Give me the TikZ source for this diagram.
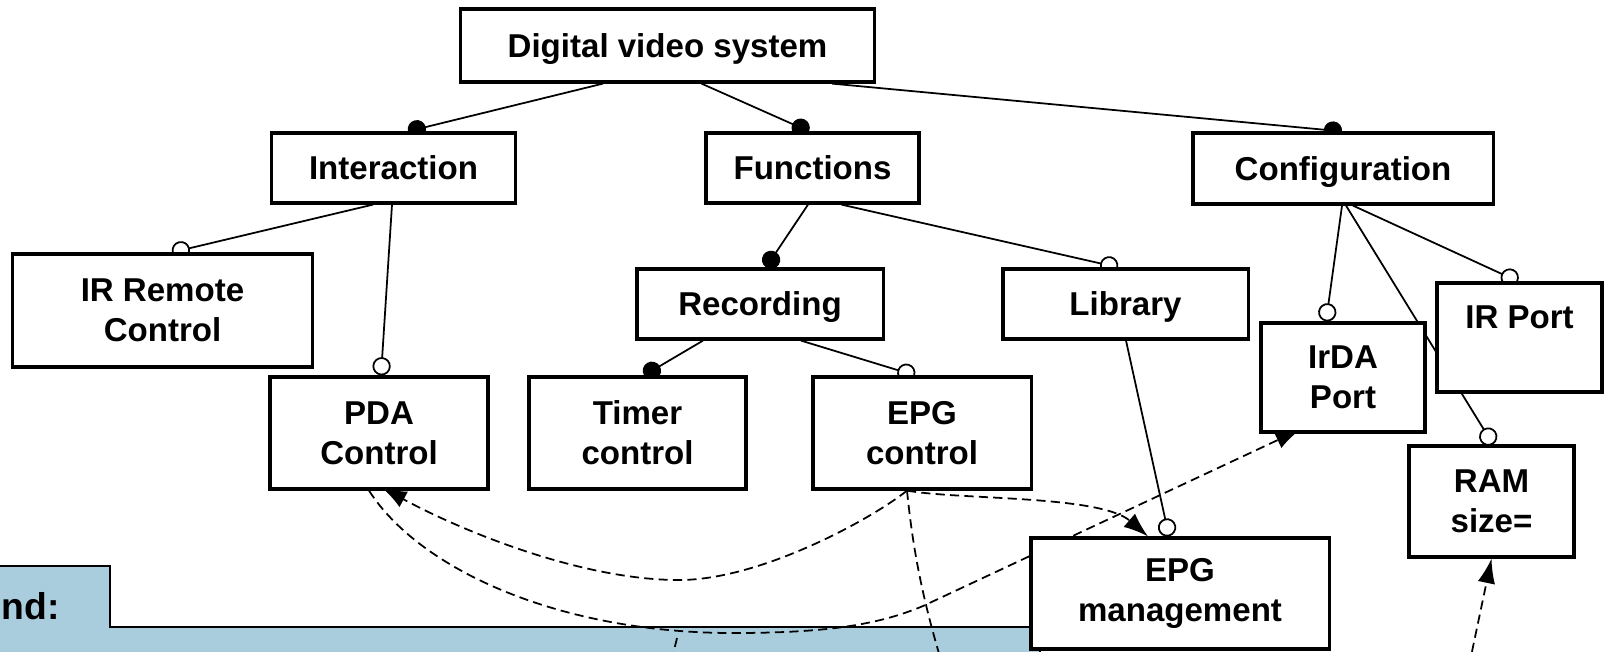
\documentclass[tikz,border=0pt]{standalone}
\usepackage{fontspec}
\setmainfont{Liberation Sans}
\usetikzlibrary{arrows.meta,calc}
\pgfdeclarelayer{back}
\pgfsetlayers{back,main}
\definecolor{legendblue}{RGB}{170,205,221}

\begin{document}
\begin{tikzpicture}[x=0.01cm, y=-0.01cm,
    box/.style={rectangle, draw, fill=white, line width=0.9pt, inner sep=0pt, align=center,
        font=\fontsize{9.4}{11.4}\selectfont\bfseries},
    single/.style={text height=0.237cm, text depth=0pt},
    mand/.style={line width=0.5pt, -{Circle[length=5.2pt]}},
    opt/.style={line width=0.5pt, -{Circle[length=5.2pt, fill=white]}},
    dashline/.style={line width=0.5pt, dash pattern=on 2.6pt off 1.5pt},
    dep/.style={dashline, -{Latex[length=7pt, width=5pt]}}
]
    \useasboundingbox (0,0) rectangle (1604,651);

    \node[box, single, minimum width=4.13cm, minimum height=0.73cm] (dvs) at (667.5,45.5) {Digital video system};
    \node[box, single, minimum width=2.44cm, minimum height=0.7cm] (inter) at (393.5,168) {Interaction};
    \node[box, single, minimum width=2.13cm, minimum height=0.7cm] (func) at (812.5,168) {Functions};
    \node[box, single, minimum width=3cm, minimum height=0.71cm] (conf) at (1343,168.5) {Configuration};
    \node[box, minimum width=2.99cm, minimum height=1.13cm] (irrc) at (162.5,310.5) {IR Remote\\Control};
    \node[box, minimum width=2.18cm, minimum height=1.12cm] (pda) at (379,433) {PDA\\Control};
    \node[box, single, minimum width=2.46cm, minimum height=0.7cm] (rec) at (760,304) {Recording};
    \node[box, minimum width=2.17cm, minimum height=1.12cm] (timer) at (637.5,433) {Timer\\control};
    \node[box, minimum width=2.18cm, minimum height=1.12cm] (ectl) at (922,433) {EPG\\control};
    \node[box, single, minimum width=2.45cm, minimum height=0.7cm] (lib) at (1125.5,304) {Library};
    \node[box, minimum width=1.64cm, minimum height=1.09cm] (irda) at (1343,377.5) {IrDA\\Port};
    \node[box, minimum width=1.65cm, minimum height=1.09cm] (irport) at (1519.5,337.5) {IR Port\\\mbox{}};
    \node[box, minimum width=1.65cm, minimum height=1.11cm] (ram) at (1491.5,501.5) {RAM\\size=};
    \node[box, minimum width=2.98cm, minimum height=1.11cm] (emgmt) at (1180,593.5) {EPG\\management};

    \node[font=\fontsize{10.6}{12}\selectfont\bfseries, anchor=base west, inner sep=0pt] (legend) at (1,619) {nd:};

    \coordinate (dend) at (950,690);
    \coordinate (rbot) at (1466,680);
    \coordinate (mbot) at (668,675);

    \begin{pgfonlayer}{back}
        % legend panel
        \draw[fill=legendblue, line width=0.6pt] (-10,566) -- (110,566) -- (110,627) -- (1040,627) -- (1040,670) -- (-10,670) -- cycle;

        \draw[mand] ($(dvs.south)+(-64.5,0)$) -- ($(inter.north)+(14.5,0)$);
        \draw[mand] ($(dvs.south)+(34,0)$) -- ($(func.north)+(-3.5,0)$);
        \draw[mand] ($(dvs.south)+(164.5,0)$) -- ($(conf.north)+(-1,0)$);
        \draw[opt] ($(inter.south)+(-20.5,0)$) -- ($(irrc.north)+(9.5,0)$);
        \draw[opt] ($(inter.south)+(-1.5,0)$) -- ($(pda.north)+(2,0)$);
        \draw[mand] ($(func.south)+(-4.5,0)$) -- ($(rec.north)+(6,0)$);
        \draw[opt] ($(func.south)+(29,0)$) -- ($(lib.north)+(-7.5,0)$);
        \draw[mand] ($(rec.south)+(-57,0)$) -- ($(timer.north)+(6.5,0)$);
        \draw[opt] ($(rec.south)+(41,0)$) -- ($(ectl.north)+(-7,0)$);
        \draw[opt] ($(lib.south)+(0.5,0)$) -- ($(emgmt.north)+(-11,0)$);
        \draw[opt] ($(conf.south)+(-1,0)$) -- ($(irda.north)+(-17,0)$);
        \draw[opt] ($(conf.south)+(10,0)$) -- ($(irport.north)+(-1.5,0)$);
        \draw[opt] ($(conf.south)+(3,0)$) -- ($(ram.north)+(1.5,0)$);

        % dependencies
        \draw[dep] ($(ectl.south)+(-15,0)$) .. controls (870,520) and (760,580) .. (679,580)
            .. controls (580,580) and (460,530) .. ($(pda.south)+(3,-3)$);
        \draw[dep] ($(pda.south)+(-10,0)$) .. controls (420,570) and (560,633) .. (733,633)
            .. controls (830,633) and (880,624) .. (923,606) -- ($(irda.south)+(-43,-4)$);
        \draw[dep] ($(ectl.south)+(-15,0)$) .. controls (960,500) and (1100,495) .. ($(emgmt.north)+(-32,0)$);
        \draw[dashline] ($(ectl.south)+(-15,0)$) .. controls (914,560) and (925,610) .. (dend);
        \draw[dep] (rbot) -- (ram.south);
        \draw[dashline] (677,638) -- (mbot);
    \end{pgfonlayer}
\end{tikzpicture}
\end{document}
